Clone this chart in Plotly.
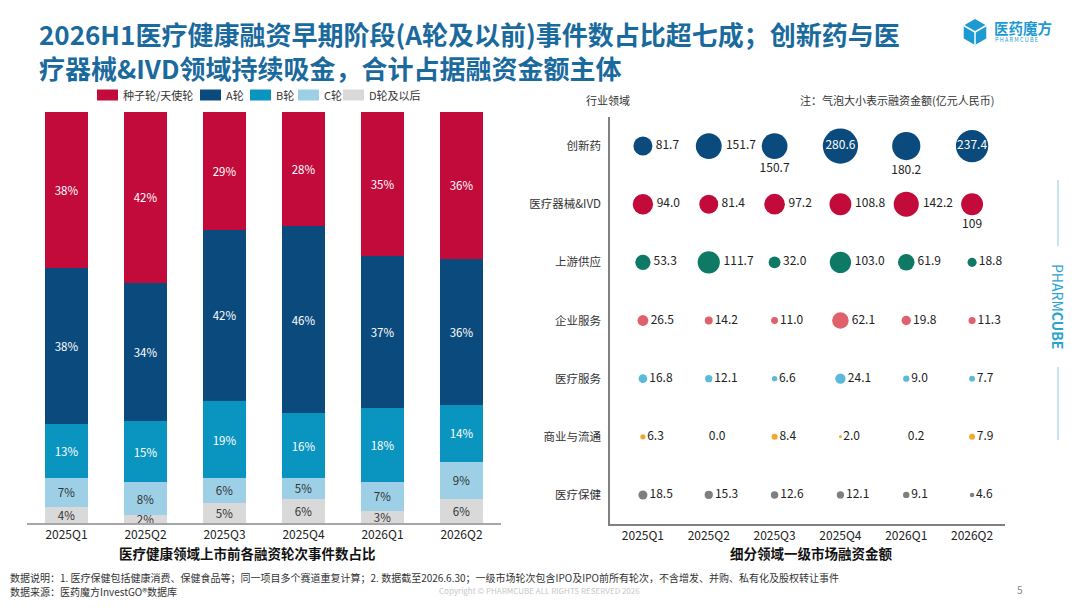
import math

import plotly.graph_objects as go

# the page has an 8px body margin, so the figure is drawn 8px in and 16px smaller
PAGE_OFFSET = 8
W, H = 1080 - 2 * PAGE_OFFSET, 608 - 2 * PAGE_OFFSET
FONT = "Noto Sans CJK SC"

QUARTERS = ["2025Q1", "2025Q2", "2025Q3", "2025Q4", "2026Q1", "2026Q2"]

# 医疗健康领域上市前各融资轮次事件数占比 (%)
SEED_ANGEL = [38, 42, 29, 28, 35, 36]
ROUND_A = [38, 34, 42, 46, 37, 36]
ROUND_B = [13, 15, 19, 16, 18, 14]
ROUND_C = [7, 8, 6, 5, 7, 9]
ROUND_D_PLUS = [4, 2, 5, 6, 3, 6]

# 细分领域一级市场融资金额 (亿元人民币)
SECTORS = ["创新药", "医疗器械&IVD", "上游供应", "企业服务", "医疗服务", "商业与流通", "医疗保健"]
INNOVATIVE_DRUG = [81.7, 151.7, 150.7, 280.6, 180.2, 237.4]
DEVICE_IVD = [94.0, 81.4, 97.2, 108.8, 142.2, 109.0]
UPSTREAM = [53.3, 111.7, 32.0, 103.0, 61.9, 18.8]
ENTERPRISE = [26.5, 14.2, 11.0, 62.1, 19.8, 11.3]
MED_SERVICE = [16.8, 12.1, 6.6, 24.1, 9.0, 7.7]
COMMERCE = [6.3, 0.0, 8.4, 2.0, 0.2, 7.9]
HEALTHCARE = [18.5, 15.3, 12.6, 12.1, 9.1, 4.6]

# the source prints this one without a decimal
LABEL_TEXT_OVERRIDE = {("医疗器械&IVD", "2026Q2"): "109"}


def px(x):
    """Screen pixel x -> paper fraction."""
    return (x - PAGE_OFFSET) / W


def py(y):
    """Screen pixel y (from top) -> paper fraction."""
    return 1 - (y - PAGE_OFFSET) / H


fig = go.Figure()

# ---- left: stacked 100% bars (bottom segment first) ----
rounds = [
    ("D轮及以后", ROUND_D_PLUS, "#D9D9D9", "#333333"),
    ("C轮", ROUND_C, "#9DD0E6", "#333333"),
    ("B轮", ROUND_B, "#0A95C1", "white"),
    ("A轮", ROUND_A, "#0B4A7C", "white"),
    ("种子轮/天使轮", SEED_ANGEL, "#C30B3B", "white"),
]
for name, values, color, text_color in rounds:
    fig.add_trace(
        go.Bar(
            x=QUARTERS,
            y=values,
            name=name,
            marker=dict(color=color, line=dict(width=0)),
            text=[f"{v}%" for v in values],
            textposition="inside",
            insidetextanchor="middle",
            textangle=0,
            textfont=dict(color=text_color, size=11.5, family=FONT),
            cliponaxis=False,
            showlegend=False,
            xaxis="x",
            yaxis="y",
        )
    )

# ---- right: bubble matrix ----
sector_series = [
    ("创新药", INNOVATIVE_DRUG, "#0B4A7C"),
    ("医疗器械&IVD", DEVICE_IVD, "#C30B3B"),
    ("上游供应", UPSTREAM, "#0E7A66"),
    ("企业服务", ENTERPRISE, "#E0616B"),
    ("医疗服务", MED_SERVICE, "#5BB9D9"),
    ("商业与流通", COMMERCE, "#F0A92E"),
    ("医疗保健", HEALTHCARE, "#7F7F7F"),
]
below = {("创新药", "2025Q3"), ("创新药", "2026Q1"), ("医疗器械&IVD", "2026Q2")}
inside = {("创新药", "2025Q4"), ("创新药", "2026Q2")}

for sector, values, color in sector_series:
    texts, positions, text_colors = [], [], []
    for q, v in zip(QUARTERS, values):
        key = (sector, q)
        texts.append(LABEL_TEXT_OVERRIDE.get(key, f"{v:.1f}"))
        if key in inside:
            positions.append("middle center")
            text_colors.append("white")
        elif key in below:
            positions.append("bottom center")
            text_colors.append("#222222")
        else:
            positions.append("middle right")
            text_colors.append("#222222")
    fig.add_trace(
        go.Scatter(
            x=QUARTERS,
            y=[sector] * len(QUARTERS),
            mode="markers+text",
            marker=dict(
                size=[2.1 * math.sqrt(v) for v in values],
                sizemode="diameter",
                color=color,
                line=dict(width=0),
                opacity=1,
            ),
            text=texts,
            textposition=positions,
            textfont=dict(size=12, color=text_colors, family=FONT),
            showlegend=False,
            cliponaxis=False,
            xaxis="x2",
            yaxis="y2",
        )
    )

# ---- texts around the charts ----
annotations = []
shapes = []


def note(x, y, text, size=11, color="#333333", anchor="left", **kw):
    annotations.append(
        dict(
            x=px(x), y=py(y), xref="paper", yref="paper", text=text,
            showarrow=False, xanchor=anchor, yanchor="middle", align="left",
            font=dict(size=size, color=color, family=FONT), **kw
        )
    )


note(37, 50, "<b>2026H1医疗健康融资早期阶段(A轮及以前)事件数占比超七成；创新药与医</b><br>"
     "<b>疗器械&IVD领域持续吸金，合计占据融资金额主体</b>", size=26, color="#1A6A9E")

# legend drawn by hand so the swatches sit as tight as in the source
legend_x = [97, 200, 250, 298, 343]
for lx, (name, _values, color, _tc) in zip(legend_x, rounds[::-1]):
    shapes.append(dict(type="rect", xref="paper", yref="paper",
                       x0=px(lx), x1=px(lx + 21), y0=py(100.5), y1=py(89.5),
                       fillcolor=color, line=dict(width=0)))
    note(lx + 24, 95, name, size=11)

note(992, 28, "<b>医药魔方</b>", size=14.5, color="#1E9AD2")
note(993, 40, "P H A R M C U B E", size=5.5, color="#1E9AD2")

note(608, 100, "行业领域", size=11, anchor="center")
note(798, 100, "注：气泡大小表示融资金额(亿元人民币)", size=11)

note(247, 553, "<b>医疗健康领域上市前各融资轮次事件数占比</b>", size=13.5, color="#111111", anchor="center")
note(811, 553, "<b>细分领域一级市场融资金额</b>", size=13.5, color="#111111", anchor="center")

note(8, 577, "数据说明：1. 医疗保健包括健康消费、保健食品等；同一项目多个赛道重复计算；2. 数据截至2026.6.30；"
     "一级市场轮次包含IPO及IPO前所有轮次，不含增发、并购、私有化及股权转让事件", size=10)
note(8, 591, "数据来源：医药魔方InvestGO®数据库", size=10)
note(437, 590, "Copyright © PHARMCUBE ALL RIGHTS RESERVED 2026", size=8, color="#C8C8C8")
note(1020, 589, "5", size=10, color="#888888", anchor="center")

note(1058, 306, "PHARM<b>CUBE</b>", size=14, color="#2AA3D1", anchor="center", textangle=90)

# logo cube and side rules
cx, cy, rad = 975, 32, 13
hexagon = [(cx + rad * math.cos(math.radians(a)), cy - rad * math.sin(math.radians(a)))
           for a in (90, 30, -30, -90, -150, 150)]
hex_path = "M" + " L".join(f"{px(x):.5f},{py(y):.5f}" for x, y in hexagon) + " Z"
shapes.append(dict(type="path", path=hex_path, xref="paper", yref="paper",
                   fillcolor="#1E9AD2", line=dict(width=0)))
for x, y in (hexagon[3], hexagon[5], hexagon[1]):
    shapes.append(dict(type="line", xref="paper", yref="paper", x0=px(cx), y0=py(cy),
                       x1=px(x), y1=py(y), line=dict(color="white", width=1.5)))
for y0, y1 in ((180, 246), (367, 440)):
    shapes.append(dict(type="line", xref="paper", yref="paper", x0=px(1058), x1=px(1058),
                       y0=py(y0), y1=py(y1), line=dict(color="#8CC8E2", width=1)))

fig.update_layout(
    width=W,
    height=H,
    margin=dict(l=0, r=0, t=0, b=0),
    paper_bgcolor="white",
    plot_bgcolor="white",
    font=dict(family=FONT, color="#222222"),
    barmode="stack",
    barnorm="percent",
    bargap=0.455,
    uniformtext=dict(minsize=11, mode="show"),
    showlegend=False,
    xaxis=dict(
        domain=[px(27), px(501)], anchor="y", showline=True, linecolor="#A6A6A6",
        linewidth=1.5, ticks="", showgrid=False, tickfont=dict(size=12, color="#222222"),
    ),
    yaxis=dict(domain=[py(523), py(112)], anchor="x", range=[0, 100], visible=False),
    xaxis2=dict(
        domain=[px(610), px(1005)], anchor="y2", showline=True, linecolor="#808080",
        linewidth=1.5, ticks="", showgrid=False, range=[-0.5, 5.5],
        tickfont=dict(size=12, color="#222222"),
    ),
    yaxis2=dict(
        domain=[py(524), py(117)], anchor="x2", showline=True, linecolor="#808080",
        linewidth=1.5, ticks="", showgrid=False, categoryorder="array",
        categoryarray=SECTORS[::-1], range=[-0.5, 6.5], ticklabelstandoff=5,
        tickfont=dict(size=11.5, color="#333333"),
    ),
    annotations=annotations,
    shapes=shapes,
)

fig.write_html("out.html")
